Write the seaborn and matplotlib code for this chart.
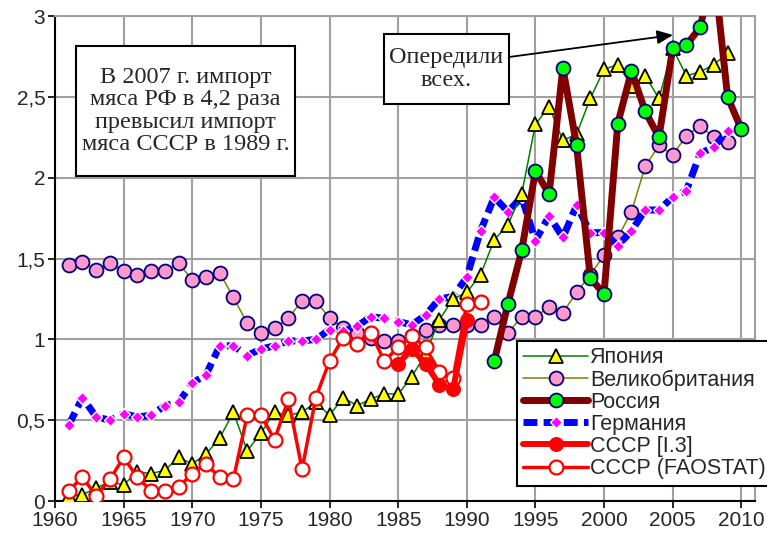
import numpy as np
import pandas as pd
import seaborn as sns
from matplotlib import pyplot as plt
from matplotlib.patches import Rectangle
from matplotlib.ticker import FuncFormatter, MultipleLocator


# meat imports, values
japan_years = list(range(1961, 2010))
japan = [0.03, 0.04, 0.08, 0.12, 0.10, 0.18, 0.17, 0.19, 0.27, 0.23,
         0.29, 0.39, 0.55, 0.31, 0.42, 0.55, 0.53, 0.55, 0.61, 0.53,
         0.64, 0.59, 0.63, 0.665, 0.66, 0.77, 0.91, 1.12, 1.25, 1.29,
         1.40, 1.615, 1.71, 1.90, 2.33, 2.44, 2.23, 2.27, 2.49, 2.67,
         2.70, 2.57, 2.63, 2.49, 2.80, 2.63, 2.655, 2.70, 2.77]

uk_years = list(range(1961, 2010))
uk = [1.46, 1.48, 1.43, 1.47, 1.42, 1.40, 1.42, 1.42, 1.47, 1.37,
      1.385, 1.41, 1.26, 1.10, 1.04, 1.07, 1.13, 1.24, 1.24, 1.13,
      1.07, 1.04, 1.01, 0.99, 0.99, 1.02, 1.06, 1.09, 1.09, 1.09,
      1.09, 1.14, 1.04, 1.14, 1.14, 1.20, 1.165, 1.29, 1.40, 1.52,
      1.63, 1.79, 2.07, 2.20, 2.14, 2.26, 2.32, 2.25, 2.22]

russia_years = list(range(1992, 2011))
russia = [0.866, 1.22, 1.55, 2.04, 1.90, 2.68, 2.20, 1.38, 1.28, 2.335,
          2.66, 2.41, 2.25, 2.80, 2.82, 2.93, 3.30, 2.50, 2.30]

germany_years = list(range(1961, 2010))
germany = [0.47, 0.64, 0.52, 0.50, 0.54, 0.52, 0.53, 0.59, 0.61, 0.73,
           0.78, 0.96, 0.96, 0.90, 0.94, 0.96, 0.99, 0.99, 1.00, 1.06,
           1.05, 1.08, 1.14, 1.13, 1.11, 1.09, 1.15, 1.25, 1.265, 1.385,
           1.67, 1.88, 1.79, 1.88, 1.61, 1.765, 1.63, 1.83, 1.66, 1.66,
           1.58, 1.67, 1.80, 1.80, 1.88, 1.92, 2.15, 2.19, 2.29]

ussr_i3_years = list(range(1985, 1991))
ussr_i3 = [0.85, 0.94, 0.85, 0.72, 0.69, 1.12]

ussr_fao_years = list(range(1961, 1992))
ussr_fao = [0.064, 0.146, 0.033, 0.134, 0.27, 0.146, 0.064, 0.064, 0.085,
            0.17, 0.23, 0.146, 0.136, 0.53, 0.53, 0.38, 0.63, 0.196, 0.64,
            0.866, 1.01, 0.97, 1.04, 0.866, 0.95, 1.02, 0.95, 0.80, 0.76,
            1.22, 1.23]

x_ticks = list(range(1960, 2011, 5))

note_text = "В 2007 г. импорт\nмяса РФ в 4,2 раза\nпревысил импорт\nмяса СССР в 1989 г."
arrow_text = "Опередили\nвсех."


sns.set_theme(style="white")
plt.rcParams["font.family"] = ["Liberation Sans", "DejaVu Sans"]

fig = plt.figure(figsize=(7.67, 5.41), dpi=100)
ax = fig.add_axes([0.0717, 0.0739, 0.9127, 0.8965])

series = [
    ("Япония", japan_years, japan,
     dict(color="#008000", lw=1.1, marker="^", ms=9.5, mfc="#FFFF00",
          mec="black", mew=1.3, zorder=4)),
    ("Великобритания", uk_years, uk,
     dict(color="#808000", lw=1.1, marker="o", ms=10, mfc="#FF99CC",
          mec="#000080", mew=1.3, zorder=2)),
    ("Россия", russia_years, russia,
     dict(color="#800000", lw=5, marker="o", ms=10, mfc="#00FF00",
          mec="#000080", mew=1.3, zorder=5)),
    ("Германия", germany_years, germany,
     dict(color="#0000FF", lw=5, ls=(0, (2.0, 0.9)), marker="D", ms=6.5,
          mfc="#FF00FF", mec="white", mew=1.0, zorder=3)),
    ("СССР [I.3]", ussr_i3_years, ussr_i3,
     dict(color="#FF0000", lw=4.3, marker="o", ms=9.5, mfc="#FF0000",
          mec="#FF0000", mew=1.3, zorder=7)),
    ("СССР (FAOSTAT)", ussr_fao_years, ussr_fao,
     dict(color="#FF0000", lw=2.5, marker="o", ms=10, mfc="white",
          mec="#FF0000", mew=1.6, zorder=6)),
]

for label, years, vals, style in series:
    df = pd.DataFrame({"year": years, "value": vals})
    sns.lineplot(data=df, x="year", y="value", ax=ax, label=label, **style)

ax.set_xlim(1960, 2011)
ax.set_ylim(0, 3)
ax.set_xticks(x_ticks)
ax.yaxis.set_major_locator(MultipleLocator(0.5))
ax.yaxis.set_major_formatter(
    FuncFormatter(lambda v, p: f"{v:g}".replace(".", ",")))
ax.set_xlabel(None)
ax.set_ylabel(None)
ax.grid(True, color="#A0A0A0", lw=1.5)
ax.set_axisbelow(True)
for side in ["left", "bottom"]:
    ax.spines[side].set_color("black")
    ax.spines[side].set_linewidth(1.5)
for side in ["top", "right"]:
    ax.spines[side].set_color("#A0A0A0")
    ax.spines[side].set_linewidth(1.5)
ax.tick_params(axis="both", labelsize=15, direction="out", length=5,
               width=1.2, color="black", bottom=True, left=True, pad=2)

leg = ax.legend(loc="upper left", bbox_to_anchor=(0.66, 0.33),
                fontsize=15.5, frameon=True, fancybox=False, framealpha=1,
                edgecolor="black", handlelength=3.0, handletextpad=0.1,
                labelspacing=0.05, borderpad=0.3, borderaxespad=0)
leg.get_frame().set_linewidth(1.5)
leg.set_zorder(10)

# text boxes, drawn as plain rectangles so the padding can match
for x0, y0, w, h in [(0.0991, 0.6747, 0.2855, 0.2403),
                     (0.5007, 0.8078, 0.1630, 0.1294)]:
    fig.add_artist(Rectangle((x0, y0), w, h, transform=fig.transFigure,
                             fc="white", ec="black", lw=1.5, zorder=11))
fig.text(0.2419, 0.7948, note_text, ha="center", va="center",
         fontsize=17.5, family="Liberation Serif", linespacing=1.07,
         zorder=12)
fig.text(0.5821, 0.8725, arrow_text, ha="center", va="center",
         fontsize=17.5, family="Liberation Serif", linespacing=1.12,
         zorder=12)
ax.annotate("", xy=(0.8774, 0.9353), xytext=(0.6636, 0.8946),
            xycoords="figure fraction", textcoords="figure fraction",
            zorder=12,
            arrowprops=dict(arrowstyle="-|>,head_length=0.8,head_width=0.35",
                            color="black", lw=1.3, shrinkA=0, shrinkB=0))

plt.savefig("out.png", dpi=100)
